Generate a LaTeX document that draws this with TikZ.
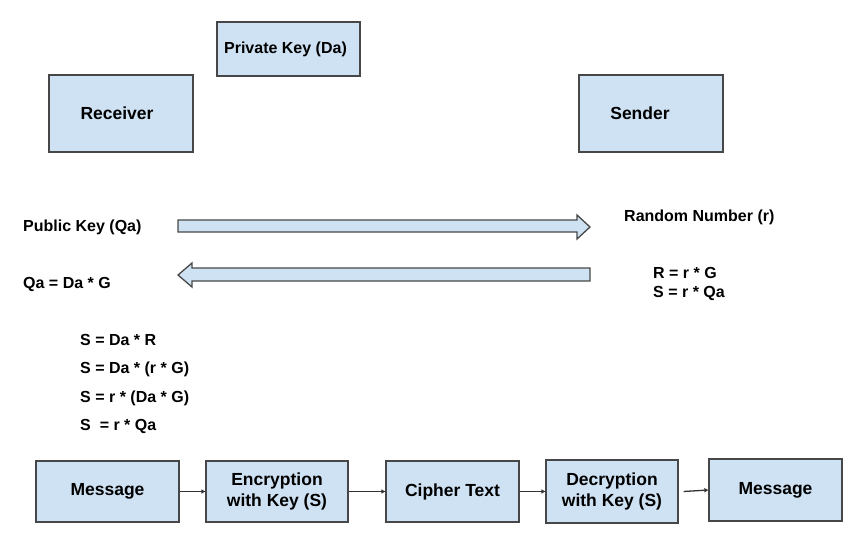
\documentclass[tikz,border=0pt]{standalone}
\usepackage{fontspec}
\setmainfont{Liberation Sans}
\usetikzlibrary{arrows.meta}
\definecolor{boxfill}{HTML}{CFE2F3}
\definecolor{boxline}{HTML}{474747}
\definecolor{connline}{HTML}{333333}
\begin{document}
\begin{tikzpicture}[x=1pt,y=-1pt,
  box/.style={draw=boxline, fill=boxfill, line width=1.3pt, align=center, inner sep=0pt,
    font=\bfseries\fontsize{17.5}{21}\selectfont},
  lbl/.style={anchor=west, inner sep=0pt, font=\bfseries\fontsize{16}{19}\selectfont},
  conn/.style={draw=connline, line width=1.3pt, -{Triangle[length=4pt,width=4pt]}},
  blockarrow/.style={draw=boxline, fill=boxfill, line width=1.3pt, line join=miter}]
\useasboundingbox (0,0) rectangle (853,545);

% top boxes
\node[box, minimum width=144pt, minimum height=77pt] (recv) at (121,113.5) {\hspace*{-8pt}Receiver};
\node[box, minimum width=143pt, minimum height=54pt, font=\bfseries\fontsize{16}{19}\selectfont] (priv) at (288.5,49) {\hspace*{-6pt}Private Key (Da)};
\node[box, minimum width=144pt, minimum height=77pt] (send) at (651,113.5) {\hspace*{-22pt}Sender};

% labels
\node[lbl] (pub) at (23,227) {Public Key (Qa)};
\node[lbl] (qa) at (23,284) {Qa = Da * G};
\node[lbl] (rnd) at (624,217) {Random Number (r)};
\node[lbl] (rg) at (653,273) {R = r * G};
\node[lbl] (sqa) at (653,293) {S = r * Qa};
\node[lbl] (e1) at (80,340) {S = Da * R};
\node[lbl] (e2) at (80,369) {S = Da * (r * G)};
\node[lbl] (e3) at (80,398) {S = r * (Da * G)};
\node[lbl] (e4) at (80,426) {S\ \ = r * Qa};

% block arrows
\draw[blockarrow] (178,220) -- (577,220) -- (577,215) -- (590,227) -- (577,239) -- (577,232) -- (178,232) -- cycle;
\draw[blockarrow] (590,268) -- (192,268) -- (192,263) -- (178,275) -- (192,287) -- (192,281) -- (590,281) -- cycle;

% bottom chain
\node[box, minimum width=143pt, minimum height=61pt] (msg1) at (107.5,491.5) {Message};
\node[box, minimum width=142pt, minimum height=61pt] (enc) at (277,491.5) {Encryption\\with Key (S)};
\node[box, minimum width=133pt, minimum height=61pt] (ciph) at (452.5,491.5) {Cipher Text};
\node[box, minimum width=132pt, minimum height=63pt] (dec) at (612,491.5) {Decryption\\with Key (S)};
\node[box, minimum width=133pt, minimum height=62pt] (msg2) at (775.5,490) {Message};

\draw[conn] (msg1) -- (enc);
\draw[conn] (enc) -- (ciph);
\draw[conn] (ciph) -- (dec);
\draw[conn] ([xshift=5pt]dec.east) -- (msg2.west);
\end{tikzpicture}
\end{document}
